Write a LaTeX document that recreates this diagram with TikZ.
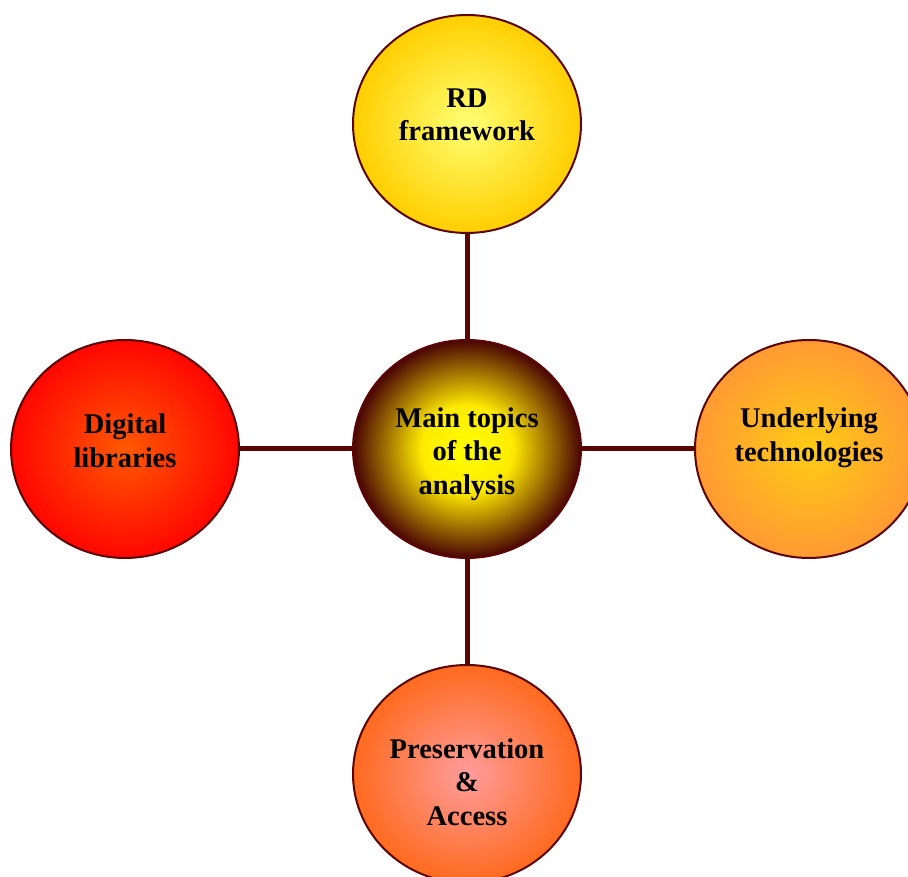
\documentclass[tikz,border=0pt]{standalone}
\usepackage{fontspec}
\setmainfont{Liberation Serif}
\usetikzlibrary{shapes.geometric,positioning}
\definecolor{linkred}{HTML}{5C0505}
\definecolor{techin}{HTML}{FFCC14}
\definecolor{techout}{HTML}{FF9A33}
\definecolor{pain}{HTML}{FF9C9C}
\definecolor{paout}{HTML}{FF6A1E}
\pgfdeclareradialshading{mainshade}{\pgfpoint{0bp}{0bp}}{color(0bp)=(yellow); color(10bp)=(yellow!92!red); color(25bp)=(linkred!80!black); color(50bp)=(linkred)}

\begin{document}
\begin{tikzpicture}[x=1pt,y=1pt,node distance=325pt and 342pt,on grid,
	topic/.style={ellipse,draw=linkred,line width=2pt,minimum width=228pt,minimum height=218pt},
	words/.style={align=center,font=\fontsize{28.5}{33.5}\selectfont\bfseries}]
					\useasboundingbox (0,0) rectangle (908,877);
					\node[topic,shading=mainshade,label={[words,yshift=-5pt]center:Main topics\\of the\\analysis}] (main) at (467,428) {};
					\node[topic,inner color=yellow!55!white,outer color=orange!20!yellow!90!red,label={[words,yshift=9pt]center:RD\\framework}] (rd) [above=of main] {};
					\node[topic,inner color=techin,outer color=techout,label={[words,yshift=11pt]center:Underlying\\technologies}] (tech) [right=of main] {};
					\node[topic,inner color=orange!70!red,outer color=red!95!orange,label={[words,yshift=8pt]center:Digital\\libraries}] (dl) [left=of main] {};
					\node[topic,inner color=pain,outer color=paout,label={[words,yshift=-8pt]center:Preservation\\\&\\Access}] (pa) [below=of main] {};
					\path[draw=linkred,line width=5pt]
					(main) edge (rd)
					(main) edge (tech)
					(main) edge (dl)
					(main) edge (pa)
					;
				\end{tikzpicture}
\end{document}
